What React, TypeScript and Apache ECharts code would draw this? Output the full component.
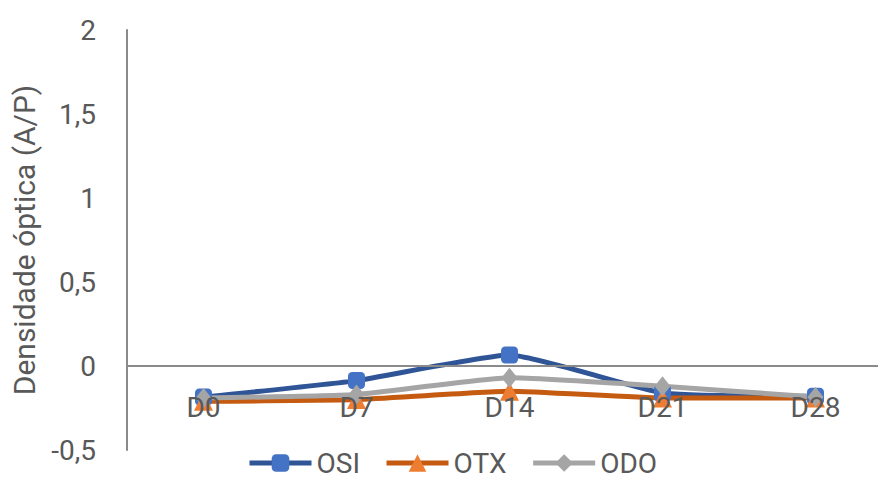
import React, { useEffect, useRef } from "react";
import * as echarts from "echarts";

// Sampling days
const categories = ["D0", "D7", "D14", "D21", "D28"];

// Optical density (A/P) per group
const osiValues = [-0.185, -0.087, 0.065, -0.16, -0.18];
const otxValues = [-0.21, -0.2, -0.15, -0.19, -0.19];
const odoValues = [-0.19, -0.17, -0.07, -0.12, -0.185];

const seriesNames = ["OSI", "OTX", "ODO"];

const FONT = "Roboto, 'Noto Sans', sans-serif";
const TEXT_COLOR = "#595959";
const AXIS_COLOR = "#8a8a8a";

export default function App() {
  const ref = useRef<HTMLDivElement>(null);

  useEffect(() => {
    document.body.style.margin = "0";
    if (!ref.current) return;
    const chart = echarts.init(ref.current, null, { renderer: "svg" });

    const makeSeries = (
      name: string,
      data: number[],
      lineColor: string,
      markerColor: string,
      symbol: string,
      symbolSize: number | number[]
    ) => ({
      name,
      type: "line",
      data,
      smooth: 0.15,
      symbol,
      symbolSize,
      showSymbol: true,
      lineStyle: { color: lineColor, width: 5 },
      itemStyle: { color: markerColor, borderWidth: 0 },
      emphasis: { disabled: true },
    });

    chart.setOption({
      animation: false,
      backgroundColor: "#ffffff",
      textStyle: { fontFamily: FONT },
      grid: {
        left: 127,
        top: 30,
        width: 765,
        height: 420,
        containLabel: false,
        outerBoundsMode: "none",
      },
      legend: {
        data: seriesNames,
        left: 242,
        top: 444,
        itemWidth: 62,
        itemHeight: 22,
        itemGap: 24,
        lineStyle: { width: 5 },
        textStyle: { fontSize: 28, color: TEXT_COLOR, fontFamily: FONT },
      },
      xAxis: {
        type: "category",
        data: categories,
        boundaryGap: true,
        z: 10,
        axisLine: { onZero: true, lineStyle: { color: AXIS_COLOR, width: 2 } },
        axisTick: { show: false },
        // labels sit just under the zero line, above the plot's lower edge
        axisLabel: { fontSize: 28, color: TEXT_COLOR, fontFamily: FONT, margin: -57 },
        splitLine: { show: false },
      },
      yAxis: {
        type: "value",
        min: -0.5,
        max: 2,
        interval: 0.5,
        name: "Densidade óptica (A/P)",
        nameLocation: "middle",
        nameGap: 88,
        nameTextStyle: { fontSize: 30, color: TEXT_COLOR, fontFamily: FONT },
        axisLine: { show: true, lineStyle: { color: AXIS_COLOR, width: 2 } },
        axisTick: { show: false },
        splitLine: { show: false },
        axisLabel: {
          fontSize: 28,
          color: TEXT_COLOR,
          fontFamily: FONT,
          margin: 31,
          formatter: (v: number) => String(v).replace(".", ","),
        },
      },
      series: [
        makeSeries("OSI", osiValues, "#2f5597", "#4472c4", "roundRect", 17),
        makeSeries("OTX", otxValues, "#c55a11", "#ed7d31", "triangle", 19),
        makeSeries("ODO", odoValues, "#a5a5a5", "#a5a5a5", "diamond", [16, 20]),
      ],
    });

    return () => {
      chart.dispose();
    };
  }, []);

  return <div ref={ref} style={{ width: 878, height: 486 }} />;
}
